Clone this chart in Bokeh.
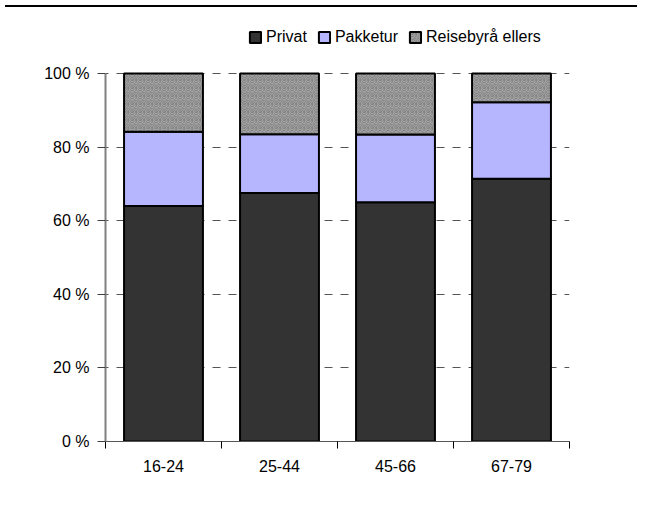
from bokeh.plotting import figure
from bokeh.models import ColumnDataSource, FixedTicker, Legend, LegendItem, Range1d, Div
from bokeh.layouts import column
from bokeh.transform import stack
from bokeh.embed import file_html
from bokeh.resources import INLINE

categories = ["16-24", "25-44", "45-66", "67-79"]
privat = [64.0, 67.5, 65.0, 71.4]
pakketur = [20.2, 16.0, 18.4, 20.8]
reisebyra = [15.8, 16.5, 16.6, 7.8]
y_ticks = [0, 20, 40, 60, 80, 100]
y_labels = ["0 %", "20 %", "40 %", "60 %", "80 %", "100 %"]
series_names = ["Privat", "Pakketur", "Reisebyrå ellers"]

FONT = "Liberation Sans"

src = ColumnDataSource(dict(
    x=[i + 0.5 for i in range(len(categories))],
    privat=privat, pakketur=pakketur, reise=reisebyra,
))

# y range extends above 100 % to leave room for the legend inside the frame
p = figure(width=632, height=486, x_range=Range1d(0, len(categories)),
           y_range=Range1d(0, 113.04), output_backend="svg",
           toolbar_location=None,
           min_border_left=105, min_border_right=63, min_border_bottom=57,
           min_border_top=13)
p.outline_line_color = None

r1 = p.vbar(x="x", top=stack("privat"), bottom=0, width=0.68, source=src,
            fill_color="#333333", line_color="black", line_width=2)
r2 = p.vbar(x="x", bottom=stack("privat"), top=stack("privat", "pakketur"),
            width=0.68, source=src, fill_color="#b6b6ff", line_color="black",
            line_width=2)
r3 = p.vbar(x="x", bottom=stack("privat", "pakketur"),
            top=stack("privat", "pakketur", "reise"), width=0.68, source=src,
            fill_color="#bdbdbd", line_color="black", line_width=2,
            hatch_pattern="spiral", hatch_color="#4a4a4a", hatch_scale=8,
            hatch_weight=1.2, hatch_alpha=0.5)

p.xgrid.visible = False
p.ygrid.ticker = FixedTicker(ticks=y_ticks[1:])
p.ygrid.grid_line_color = "#555555"
p.ygrid.grid_line_dash = "8 8"
p.ygrid.grid_line_dash_offset = 5
p.ygrid.grid_line_width = 1

p.yaxis.ticker = FixedTicker(ticks=y_ticks)
p.yaxis.bounds = (0, 100)
p.yaxis.major_label_overrides = {t: l for t, l in zip(y_ticks, y_labels)}
p.yaxis.axis_line_color = "#808080"
p.yaxis.axis_line_width = 2
p.yaxis.major_tick_line_color = "#404040"
p.yaxis.major_tick_out = 8
p.yaxis.major_tick_in = 0
p.yaxis.minor_tick_line_color = None
p.yaxis.major_label_standoff = 8

centers = [i + 0.5 for i in range(len(categories))]
p.xaxis.ticker = FixedTicker(ticks=centers,
                             minor_ticks=list(range(len(categories) + 1)))
p.xaxis.major_label_overrides = {c: n for c, n in zip(centers, categories)}
p.xaxis.major_tick_out = 0
p.xaxis.major_tick_in = 0
p.xaxis.minor_tick_out = 7
p.xaxis.minor_tick_in = 0
p.xaxis.minor_tick_line_color = "black"
p.xaxis.axis_line_color = "#555555"
p.xaxis.axis_line_width = 1
p.xaxis.major_label_standoff = 11

for ax in (p.xaxis, p.yaxis):
    ax.major_label_text_font = FONT
    ax.major_label_text_font_size = "16px"
    ax.major_label_text_color = "black"

legend = Legend(items=[LegendItem(label=series_names[0], renderers=[r1]),
                       LegendItem(label=series_names[1], renderers=[r2]),
                       LegendItem(label=series_names[2], renderers=[r3])],
                orientation="horizontal", location=(143, 395),
                border_line_color=None, background_fill_alpha=0,
                glyph_width=14, glyph_height=14, label_text_font=FONT,
                label_text_font_size="16px", label_text_color="black",
                spacing=10, label_standoff=4,
                padding=2, margin=0, label_height=16)
p.add_layout(legend, "center")

top_rule = Div(text="", width=632, height=2,
               styles={"border-top": "2px solid black"})
layout = column(top_rule, p, spacing=0)

open("out.html", "w").write(file_html(layout, INLINE))
